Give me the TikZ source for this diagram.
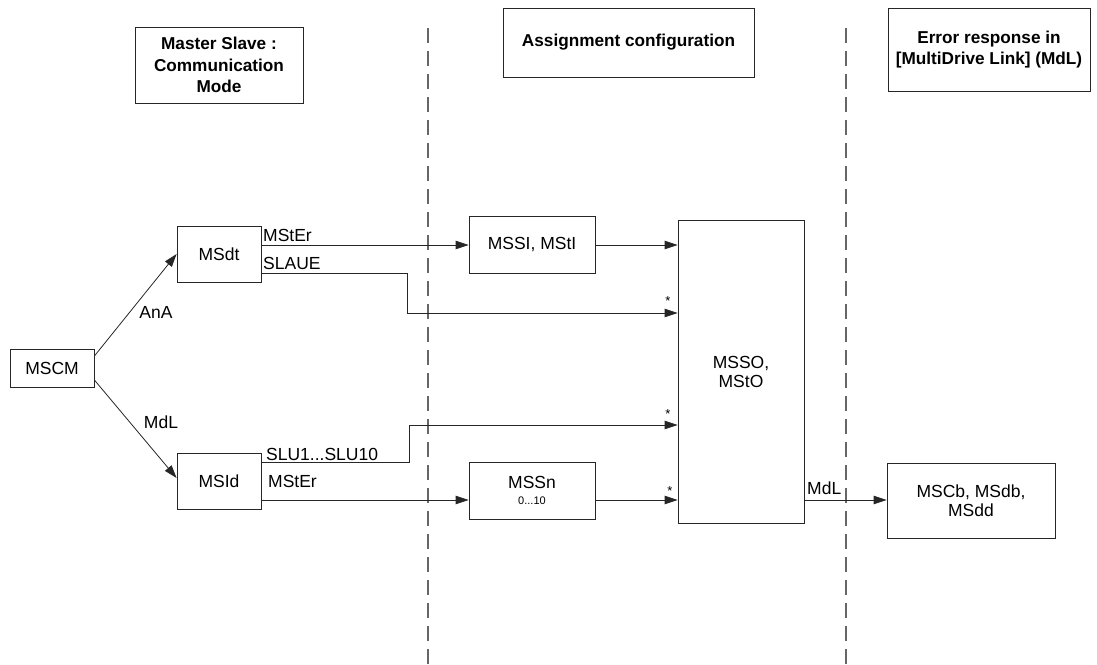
\documentclass[tikz,border=0pt]{standalone}
\usepackage{fontspec}
\setmainfont{Liberation Sans}
\usetikzlibrary{arrows.meta,calc}
\begin{document}
\begin{tikzpicture}[x=1pt,y=-1pt,
  box/.style={draw=black!85,line width=0.8pt,inner sep=0pt,align=center,font=\fontsize{17.5}{19}\selectfont},
  hdr/.style={box,font=\fontsize{17.2}{21.5}\selectfont\bfseries},
  conn/.style={draw=black!85,line width=0.8pt},
  arr/.style={conn,-{Triangle[length=13pt,width=8.5pt]}},
  lbl/.style={inner sep=0pt,font=\fontsize{17.5}{19}\selectfont},
  star/.style={inner sep=0pt,font=\fontsize{13}{14}\selectfont},
  sep/.style={draw=black!60,line width=1.3pt,dash pattern=on 15pt off 8pt}]
\useasboundingbox (0,0) rectangle (1097,664);
% separators
\draw[sep] (428,28) -- (428,664);
\draw[sep] (846,28) -- (846,664);
% headers
\node[hdr,minimum width=168pt,minimum height=76pt] (h1) at (219,65) {Master Slave :\\Communication\\Mode};
\node[hdr,minimum width=251pt,minimum height=69pt] (h2) at (628.5,42.5) {Assignment configuration};
\node[hdr,minimum width=202pt,minimum height=83pt] (h3) at (989,49.5) {Error response in\\{}[MultiDrive Link] (MdL)};
% boxes
\node[box,minimum width=84pt,minimum height=38pt] (mscm) at (52,368) {MSCM};
\node[box,minimum width=84pt,minimum height=56pt] (msdt) at (219,254) {MSdt};
\node[box,minimum width=84pt,minimum height=56pt] (msld) at (219,481) {MSId};
\node[box,minimum width=126pt,minimum height=57pt] (mssi) at (532,245) {MSSI, MStI};
\node[box,minimum width=126pt,minimum height=57pt] (mssn) at (532,490.5) {MSSn\\[-3pt]{\fontsize{11}{12}\selectfont 0...10}};
\node[box,minimum width=126pt,minimum height=303pt] (msso) at (741,371.5) {MSSO,\\MStO};
\node[box,minimum width=168pt,minimum height=75pt] (mscb) at (971,500.5) {MSCb, MSdb,\\MSdd};
% connectors
\draw[arr] ([yshift=12pt]mscm.east) -- (msdt.west);
\draw[arr] ([yshift=-12pt]mscm.east) -- ([yshift=3pt]msld.west);
\node[lbl] (tAnA) at (156,312) {AnA};
\node[lbl] (tMdL1) at (161,422) {MdL};
\draw[arr] ([yshift=9pt]msdt.east) -- (mssi.west);
\node[lbl,anchor=west] (tMStEr1) at (263,235) {MStEr};
\coordinate (s1) at (407,313);
\draw[arr] ([yshift=-19pt]msdt.east) -| (s1) -- (s1 -| msso.west);
\node[lbl,anchor=west] (tSLAUE) at (263,263) {SLAUE};
\draw[arr] (mssi.east) -- (mssi.east -| msso.west);
\coordinate (s2) at (409,425);
\draw[arr] ([yshift=19pt]msld.east) -| (s2) -- (s2 -| msso.west);
\node[lbl,anchor=west] (tSLU) at (266,454) {SLU1...SLU10};
\coordinate (lo) at ([yshift=-19pt]msld.east);
\draw[arr] (lo) -- (lo -| mssn.west);
\node[lbl,anchor=west] (tMStEr2) at (268,481) {MStEr};
\coordinate (lo2) at (mssn.east |- lo);
\draw[arr] (lo2) -- (lo2 -| msso.west);
\coordinate (lo3) at (msso.east |- lo);
\draw[arr] (lo3) -- (lo3 -| mscb.west);
\node[lbl,anchor=west] (tMdL2) at (807,488) {MdL};
% stars
\node[star] (st1) at (668,301) {*};
\node[star] (st2) at (668,414) {*};
\node[star] (st3) at (670,491) {*};
\end{tikzpicture}
\end{document}
